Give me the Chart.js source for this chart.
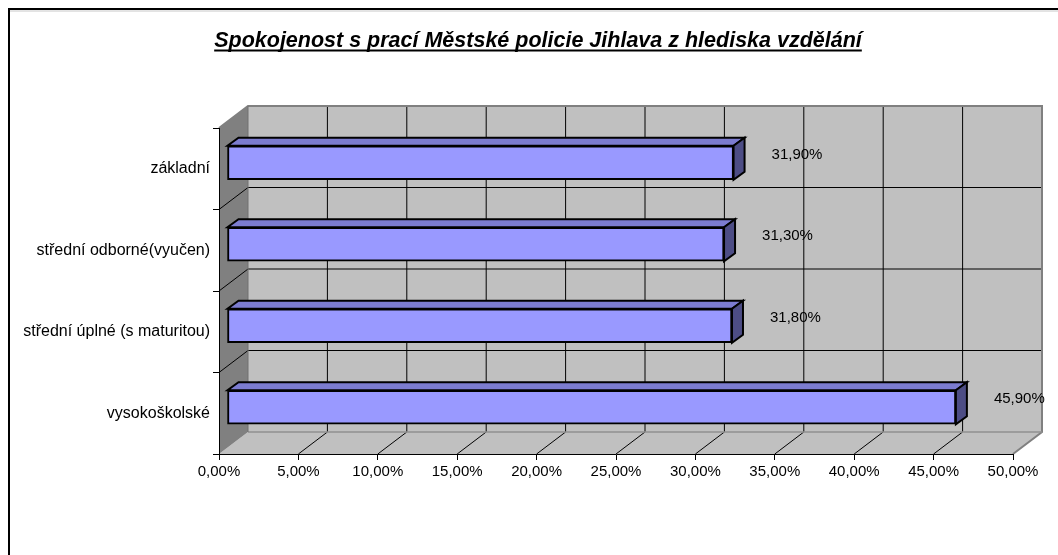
<!DOCTYPE html>
<html>
<head>
<meta charset="utf-8">
<script src="https://cdn.jsdelivr.net/npm/chart.js@4/dist/chart.umd.min.js"></script>
<style>
  html, body { margin: 0; padding: 0; background: #fff; }
  canvas { display: block; }
</style>
</head>
<body>
<canvas id="chart" width="1058" height="555"></canvas>
<script>
const title = 'Spokojenost s prací Městské policie Jihlava z hlediska vzdělání';
const categories = ['základní', 'střední odborné(vyučen)', 'střední úplné (s maturitou)', 'vysokoškolské'];
const values = [31.9, 31.3, 31.8, 45.9];
const xMin = 0;
const xMax = 50;
const xStep = 5;

// 3D look: wall depth, bar position inside the depth, bar thickness in depth
const DX = 29, DY = 22;
const BX = 8, BY = 6;
const BDX = 11, BDY = 8;
const FONT = '"Liberation Sans", Arial, sans-serif';

function fmt(v) {
  return v.toFixed(2).replace('.', ',') + '%';
}

function poly(ctx, pts, fill, stroke, lw) {
  ctx.beginPath();
  ctx.moveTo(pts[0][0], pts[0][1]);
  for (let i = 1; i < pts.length; i++) ctx.lineTo(pts[i][0], pts[i][1]);
  ctx.closePath();
  if (fill) { ctx.fillStyle = fill; ctx.fill(); }
  if (stroke) { ctx.strokeStyle = stroke; ctx.lineWidth = lw || 1; ctx.stroke(); }
}

function line(ctx, x1, y1, x2, y2, color, lw) {
  ctx.beginPath();
  ctx.moveTo(x1, y1);
  ctx.lineTo(x2, y2);
  ctx.strokeStyle = color;
  ctx.lineWidth = lw || 1;
  ctx.stroke();
}

const threeD = {
  id: 'threeD',
  beforeDraw(chart) {
    const ctx = chart.ctx;
    const a = chart.chartArea;
    const xs = chart.scales.x;
    ctx.save();
    ctx.fillStyle = '#fff';
    ctx.fillRect(0, 0, chart.width, chart.height);

    // outer frame
    ctx.strokeStyle = '#000';
    ctx.lineWidth = 2;
    ctx.strokeRect(9, 9, chart.width + 20, chart.height + 20);
    line(ctx, 10, 11, chart.width, 11, '#c8c8c8', 1);

    const L = a.left, R = a.right, T = a.top, B = a.bottom;
    // back wall
    poly(ctx, [[L + DX, T - DY], [R + DX, T - DY], [R + DX, B - DY], [L + DX, B - DY]], '#c0c0c0');
    // floor
    poly(ctx, [[L, B], [L + DX, B - DY], [R + DX, B - DY], [R, B]], '#c0c0c0');
    // left wall
    poly(ctx, [[L, T], [L + DX, T - DY], [L + DX, B - DY], [L, B]], '#808080');

    // vertical gridlines on the back wall and floor
    for (let v = xMin + xStep; v < xMax; v += xStep) {
      const px = xs.getPixelForValue(v);
      line(ctx, px + DX, T - DY, px + DX, B - DY, '#000', 1);
      line(ctx, px, B, px + DX, B - DY, '#000', 1);
    }
    // horizontal gridlines on back wall and left wall
    const band = (B - T) / categories.length;
    for (let i = 1; i < categories.length; i++) {
      const py = T + band * i;
      line(ctx, L + DX, py - DY, R + DX, py - DY, '#000', 1);
      line(ctx, L, py, L + DX, py - DY, '#000', 1);
    }
    // wall borders
    ctx.lineJoin = 'miter';
    ctx.beginPath();
    ctx.moveTo(L, T);
    ctx.lineTo(L + DX, T - DY);
    ctx.lineTo(R + DX, T - DY);
    ctx.lineTo(R + DX, B - DY);
    ctx.lineTo(R, B);
    ctx.strokeStyle = '#808080';
    ctx.lineWidth = 2;
    ctx.stroke();
    line(ctx, L + DX, B - DY, R + DX, B - DY, '#909090', 1.5);
    line(ctx, L + DX, T - DY, L + DX, B - DY, '#707070', 1);
    ctx.restore();
  },
  beforeDatasetsDraw(chart) {
    chart.ctx.save();
    chart.ctx.translate(BX, -BY);
  },
  afterDatasetsDraw(chart) {
    const ctx = chart.ctx;
    ctx.restore();
    ctx.save();
    ctx.lineJoin = 'miter';
    const meta = chart.getDatasetMeta(0);
    meta.data.forEach((bar, i) => {
      const p = bar.getProps(['x', 'y', 'base', 'height'], true);
      const fl = p.base + BX, fr = p.x + BX;
      const ft = p.y - p.height / 2 - BY, fb = p.y + p.height / 2 - BY;
      poly(ctx, [[fl, ft], [fr, ft], [fr + BDX, ft - BDY], [fl + BDX, ft - BDY]], '#7c7cd0', '#000', 2);
      poly(ctx, [[fr, ft], [fr + BDX, ft - BDY], [fr + BDX, fb - BDY], [fr, fb]], '#4d4d85', '#000', 2);

      // value label
      ctx.fillStyle = '#000';
      ctx.font = '15px ' + FONT;
      ctx.textAlign = 'left';
      ctx.textBaseline = 'middle';
      ctx.fillText(fmt(values[i]), p.x + 46, p.y - 14);
    });
    ctx.restore();
  },
  afterDraw(chart) {
    const ctx = chart.ctx;
    ctx.save();
    ctx.font = 'italic bold 21.5px ' + FONT;
    ctx.fillStyle = '#000';
    ctx.textAlign = 'center';
    ctx.textBaseline = 'alphabetic';
    const cx = 538, by = 47;
    ctx.fillText(title, cx, by);
    const w = ctx.measureText(title).width;
    line(ctx, cx - w / 2, by + 3.5, cx + w / 2, by + 3.5, '#000', 2);
    ctx.restore();
  }
};

new Chart(document.getElementById('chart'), {
  type: 'bar',
  data: {
    labels: categories,
    datasets: [{
      data: values,
      backgroundColor: '#9999ff',
      borderColor: '#000',
      borderWidth: 2,
      borderSkipped: false,
      barThickness: 34,
      clip: false
    }]
  },
  options: {
    indexAxis: 'y',
    responsive: false,
    animation: false,
    devicePixelRatio: 1,
    layout: { padding: { top: 128, right: 45, bottom: 0, left: 0 } },
    scales: {
      x: {
        min: xMin,
        max: xMax,
        afterFit(scale) { scale.height = 101; },
        ticks: {
          stepSize: xStep,
          color: '#000',
          font: { size: 15, family: FONT },
          padding: 3,
          maxRotation: 0,
          callback: (v) => fmt(v)
        },
        grid: { drawOnChartArea: false, drawTicks: true, tickLength: 6, color: '#000' },
        border: { color: '#000', width: 1 }
      },
      y: {
        afterFit(scale) { scale.width = 219; },
        ticks: {
          color: '#000',
          font: { size: 16, family: FONT },
          padding: 3
        },
        grid: { drawOnChartArea: false, drawTicks: true, tickLength: 6, color: '#000', offset: true },
        border: { color: '#000', width: 1 }
      }
    },
    plugins: {
      legend: { display: false },
      title: { display: false },
      tooltip: { enabled: false }
    }
  },
  plugins: [threeD]
});
</script>
</body>
</html>
